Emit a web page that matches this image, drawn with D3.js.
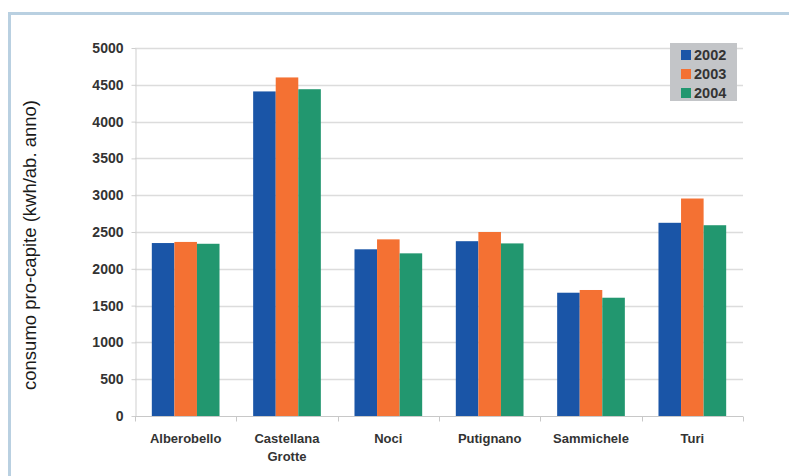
<!DOCTYPE html>
<html>
<head>
<meta charset="utf-8">
<script src="https://cdn.jsdelivr.net/npm/d3@7"></script>
<style>
  html, body { margin: 0; padding: 0; background: #fff; }
  svg { display: block; }
</style>
</head>
<body>
<svg id="chart" width="789" height="476"></svg>
<script>
// Consumo pro-capite per comune, 2002-2004
const categories = ["Alberobello", "Castellana Grotte", "Noci", "Putignano", "Sammichele", "Turi"];
const years = ["2002", "2003", "2004"];
const values2002 = [2350, 4410, 2265, 2375, 1675, 2625];
const values2003 = [2365, 4600, 2400, 2500, 1712, 2955];
const values2004 = [2340, 4440, 2210, 2345, 1607, 2592];
const yTicks = [0, 500, 1000, 1500, 2000, 2500, 3000, 3500, 4000, 4500, 5000];
const colors = ["#1a55a7", "#f47133", "#22976f"];

const series = [values2002, values2003, values2004];
const textColor = "#333";
const fontFamily = "Liberation Sans, Arial, sans-serif";

const svg = d3.select("#chart");
const plot = { left: 135, right: 743, top: 48, bottom: 416 };

// Outer frame
svg.append("rect")
  .attr("x", 9.5).attr("y", 13.5)
  .attr("width", 800).attr("height", 500)
  .attr("fill", "none")
  .attr("stroke", "#b9d0e1")
  .attr("stroke-width", 3);

const x0 = d3.scaleBand()
  .domain(categories)
  .range([plot.left, plot.right])
  .paddingInner(0.332)
  .paddingOuter(0.166);

const x1 = d3.scaleBand()
  .domain(years)
  .range([0, x0.bandwidth()]);

const y = d3.scaleLinear()
  .domain([0, 5000])
  .range([plot.bottom, plot.top]);

// Horizontal grid lines
svg.append("g")
  .selectAll("line")
  .data(yTicks.filter(d => d > 0))
  .join("line")
  .attr("x1", plot.left).attr("x2", plot.right)
  .attr("y1", d => Math.round(y(d)) + 0.5)
  .attr("y2", d => Math.round(y(d)) + 0.5)
  .attr("stroke", "#dcdcdc")
  .attr("stroke-width", 1.3);

// Bars
const groups = svg.append("g")
  .selectAll("g")
  .data(categories)
  .join("g")
  .attr("transform", d => `translate(${x0(d)},0)`);

groups.selectAll("rect")
  .data((d, i) => years.map((yr, j) => ({ yr, v: series[j][i], j })))
  .join("rect")
  .attr("x", d => x1(d.yr))
  .attr("width", x1.bandwidth())
  .attr("y", d => y(d.v))
  .attr("height", d => y(0) - y(d.v))
  .attr("fill", d => colors[d.j]);

// Y axis
const yAxis = svg.append("g")
  .attr("transform", `translate(${plot.left + 0.5},0)`)
  .call(d3.axisLeft(y).tickValues(yTicks).tickFormat(d3.format("d"))
    .tickSize(4).tickPadding(8).tickSizeOuter(0));
yAxis.select(".domain").attr("stroke", "#cfcfcf");
yAxis.selectAll(".tick line").attr("stroke", "#cfcfcf");
yAxis.selectAll("text")
  .attr("font-family", fontFamily)
  .attr("font-size", 14)
  .attr("font-weight", "bold")
  .attr("fill", textColor);

// X axis with ticks at category boundaries
const xAxisG = svg.append("g")
  .attr("transform", `translate(0,${plot.bottom + 0.5})`);
xAxisG.append("line")
  .attr("x1", plot.left).attr("x2", plot.right)
  .attr("stroke", "#c8c8c8");
const boundaries = d3.range(categories.length + 1).map(i => plot.left + i * x0.step());
xAxisG.selectAll(".bt")
  .data(boundaries)
  .join("line")
  .attr("class", "bt")
  .attr("x1", d => Math.round(d) + 0.5).attr("x2", d => Math.round(d) + 0.5)
  .attr("y1", 0).attr("y2", 5)
  .attr("stroke", "#c8c8c8");

const labels = xAxisG.selectAll(".lab")
  .data(categories)
  .join("text")
  .attr("class", "lab")
  .attr("x", d => x0(d) + x0.bandwidth() / 2)
  .attr("y", 26)
  .attr("text-anchor", "middle")
  .attr("font-family", fontFamily)
  .attr("font-size", 13)
  .attr("font-weight", "bold")
  .attr("fill", textColor);
labels.each(function(d) {
  const parts = d.split(" ");
  const t = d3.select(this);
  parts.forEach((p, i) => {
    t.append("tspan")
      .attr("x", x0(d) + x0.bandwidth() / 2)
      .attr("dy", i === 0 ? 0 : 18)
      .text(p);
  });
});

// Y axis title
svg.append("text")
  .attr("transform", `translate(36,245) rotate(-90)`)
  .attr("text-anchor", "middle")
  .attr("font-family", fontFamily)
  .attr("font-size", 18.5)
  .attr("fill", "#1a1a1a")
  .text("consumo pro-capite (kwh/ab. anno)");

// Legend
const legend = svg.append("g").attr("transform", "translate(670,43)");
legend.append("rect")
  .attr("width", 67).attr("height", 58)
  .attr("fill", "#c3c5c8");
years.forEach((yr, j) => {
  legend.append("rect")
    .attr("x", 11).attr("y", 7 + j * 19)
    .attr("width", 10).attr("height", 10)
    .attr("fill", colors[j]);
  legend.append("text")
    .attr("x", 24).attr("y", 17 + j * 19)
    .attr("font-family", fontFamily)
    .attr("font-size", 14.5)
    .attr("font-weight", "bold")
    .attr("fill", textColor)
    .text(yr);
});
</script>
</body>
</html>
